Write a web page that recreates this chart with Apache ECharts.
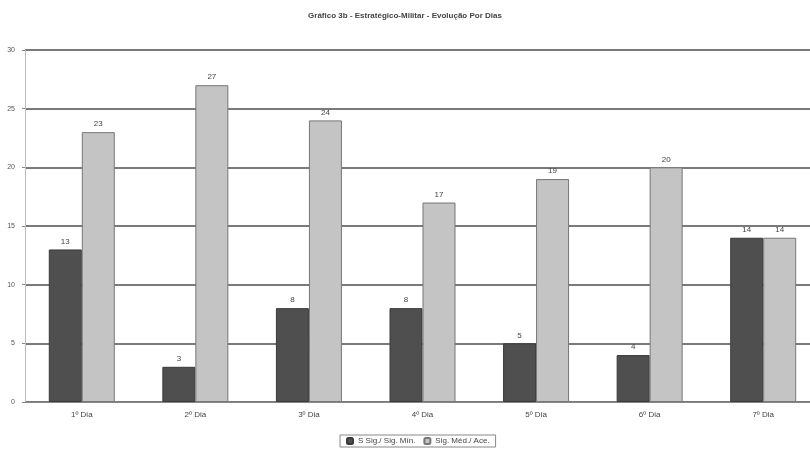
<!DOCTYPE html>
<html><head><meta charset="utf-8">
<script src="https://cdn.jsdelivr.net/npm/echarts@6/dist/echarts.min.js"></script>
<style>html,body{margin:0;padding:0;background:#fff}#c{width:810px;height:451px}</style>
</head><body><div id="c"></div>
<script>
const titleText = "Gráfico 3b - Estratégico-Militar - Evolução Por Dias";
const categories = ["1º Dia","2º Dia","3º Dia","4º Dia","5º Dia","6º Dia","7º Dia"];
const seriesNames = ["S Sig./ Sig. Mín.","Sig. Méd./ Ace."];
const seriesA = [13,3,8,8,5,4,14];
const seriesB = [23,27,24,17,19,20,14];

const chart = echarts.init(document.getElementById('c'));
const lbl = {show:true, position:'top', fontSize:8, color:'#444', fontFamily:'Liberation Sans', distance:4};
chart.setOption({
  animation:false,
  backgroundColor:'#fff',
  title:{text:titleText, left:'center', top:7, textStyle:{fontSize:8, fontWeight:'bold', color:'#444', fontFamily:'Liberation Sans'}},
  legend:{bottom:4, left:340, itemWidth:6, itemHeight:6, itemGap:8, padding:[2,6],
    borderColor:'#888', borderWidth:1, textStyle:{fontSize:8, color:'#444', fontFamily:'Liberation Sans'}, data:seriesNames},
  grid:{left:25, top:50, width:795, height:352, outerBoundsMode:'none', containLabel:false},
  xAxis:{type:'category', data:categories,
    axisLine:{lineStyle:{color:'#888', width:1}}, axisTick:{show:false},
    axisLabel:{fontSize:8, color:'#444', margin:9, fontFamily:'Liberation Sans'}},
  yAxis:{type:'value', min:0, max:30, interval:5,
    axisLine:{show:true, lineStyle:{color:'#bbb', width:1}}, axisTick:{show:true, length:3, lineStyle:{color:'#888'}},
    axisLabel:{fontSize:7, color:'#555', margin:10, fontFamily:'Liberation Sans'},
    splitLine:{lineStyle:{color:'#7a7a7a', width:2}}},
  series:[
    {name:seriesNames[0], type:'bar', data:seriesA, barWidth:33, barGap:'0%',
     itemStyle:{color:'#4f4f4f', borderColor:'#3a3a3a', borderWidth:1}, label:lbl},
    {name:seriesNames[1], type:'bar', data:seriesB, barWidth:33, barGap:'0%',
     itemStyle:{color:'#c4c4c4', borderColor:'#777', borderWidth:1}, label:lbl}
  ]
});
</script></body></html>
